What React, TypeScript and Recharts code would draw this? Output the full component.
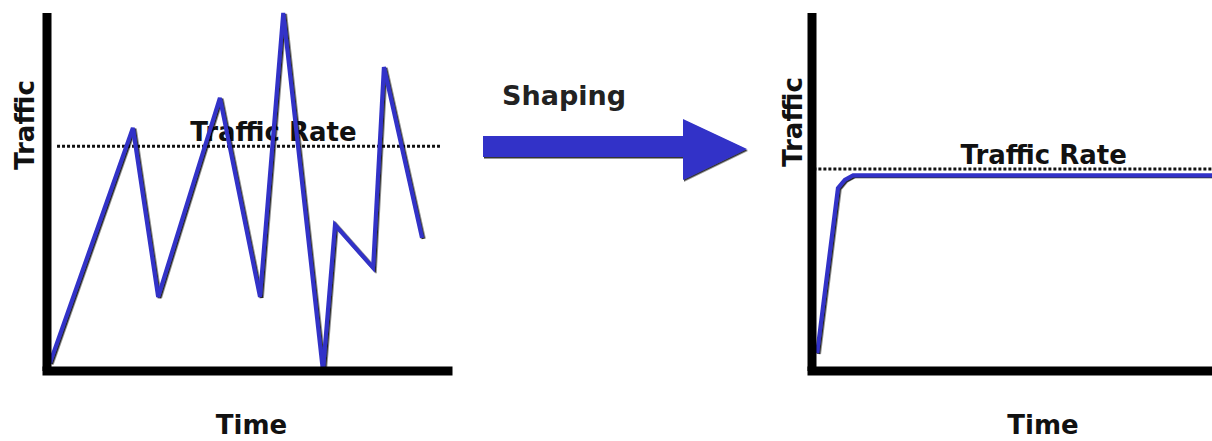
import React from "react";
import { LineChart, Line, XAxis, YAxis, ReferenceLine, Label } from "recharts";

// before shaping: bursty traffic
const RAW_TIME = [0.7, 21.4, 27.7, 43.1, 53.1, 58.9, 68.8, 71.8, 81.3, 84.0, 93.5];
const RAW_TRAFFIC = [2.2, 67.9, 20.7, 76.3, 20.7, 100, 0, 40.8, 28.8, 84.9, 37.2];
const RAW_RATE = 62.8;
const RAW_RATE_SPAN = [2.5, 98];

// after shaping: ramps up then holds just under the rate
const SHAPED_TIME = [1.1, 5.6, 7.1, 8.9, 100];
const SHAPED_TRAFFIC = [5.0, 51.1, 53.4, 54.7, 54.7];
const SHAPED_RATE = 56.4;
const SHAPED_RATE_SPAN = [0.3, 100];

const X_LABEL = "Time";
const Y_LABEL = "Traffic";
const RATE_LABEL = "Traffic Rate";
const ARROW_LABEL = "Shaping";

const rawData = RAW_TIME.map((t, i) => ({ t, v: RAW_TRAFFIC[i] }));
const shapedData = SHAPED_TIME.map((t, i) => ({ t, v: SHAPED_TRAFFIC[i] }));

const FONT = "'DejaVu Sans', Verdana, sans-serif";
const BLUE = "#3232c8";
const X_AXIS = { stroke: "#000", strokeWidth: 9, strokeLinecap: "square" as const };
const Y_AXIS = { stroke: "#000", strokeWidth: 9, strokeLinecap: "butt" as const };

const YTitle = ({ viewBox, value, dx = 0, dy = 0 }: any) => {
  const x = viewBox.x + dx;
  const y = viewBox.y + viewBox.height / 2 + dy;
  return (
    <text x={x} y={y} transform={`rotate(-90 ${x} ${y})`} textAnchor="middle" dominantBaseline="central"
      fontFamily={FONT} fontWeight="bold" fontSize={26} fill="#111">
      {value}
    </text>
  );
};

const RateTitle = ({ viewBox, value, dx = 0 }: any) => (
  <text x={viewBox.x + viewBox.width / 2 + dx} y={viewBox.y - 5} textAnchor="middle"
    fontFamily={FONT} fontWeight="bold" fontSize={26} fill="#111">
    {value}
  </text>
);

const Shadow = ({ id }: { id: string }) => (
  <defs>
    <filter id={id} x="-5%" y="-5%" width="110%" height="110%">
      <feDropShadow dx="1.5" dy="1" stdDeviation="0.3" floodColor="#000" floodOpacity="0.85" />
    </filter>
  </defs>
);

function Panel({ data, rate, span, width, margin, yWidth, labelDx, timeDx, yLabelDx, yLabelDy, id }: any) {
  return (
    <LineChart width={width} height={441} data={data} margin={margin}>
      <Shadow id={id} />
      <XAxis dataKey="t" type="number" domain={[0, 100]} tick={false} tickLine={false} axisLine={X_AXIS} height={70}>
        <Label value={X_LABEL} position="insideBottom" offset={7} dx={timeDx}
          style={{ fontFamily: FONT, fontWeight: "bold", fontSize: 26, fill: "#111" }} />
      </XAxis>
      <YAxis type="number" domain={[0, 100]} tick={false} tickLine={false} axisLine={Y_AXIS} width={yWidth}
        label={(p: any) => <YTitle {...p} value={Y_LABEL} dx={yLabelDx} dy={yLabelDy} />} />
      <ReferenceLine segment={[{ x: span[0], y: rate }, { x: span[1], y: rate }]} stroke="#111"
        strokeWidth={3} strokeDasharray="3 2" ifOverflow="visible"
        label={(p: any) => <RateTitle {...p} value={RATE_LABEL} dx={labelDx} />} />
      <Line dataKey="v" type="linear" stroke={BLUE} strokeWidth={4} dot={false} activeDot={false}
        strokeLinejoin="miter" filter={`url(#${id})`} isAnimationActive={false} />
    </LineChart>
  );
}

export default function App() {
  return (
    <div style={{ position: "fixed", left: 0, top: 0, width: 1212, height: 441, overflow: "hidden", background: "#fff" }}>
      <div style={{ position: "absolute", left: 0, top: 0 }}>
        <Panel id="shRaw" data={rawData} rate={RAW_RATE} span={RAW_RATE_SPAN} width={460}
          margin={{ top: 13, right: 12, bottom: 0, left: 0 }} yWidth={47}
          labelDx={25} timeDx={4} yLabelDx={25} yLabelDy={-67} />
      </div>
      <svg style={{ position: "absolute", left: 460, top: 60 }} width={300} height={140}>
        <defs>
          <filter id="shArrow" x="-5%" y="-5%" width="110%" height="110%">
            <feDropShadow dx="1" dy="1.5" stdDeviation="0.4" floodColor="#000" floodOpacity="0.8" />
          </filter>
        </defs>
        <text x={42} y={45} fontFamily={FONT} fontWeight="bold" fontSize={27} fill="#222">{ARROW_LABEL}</text>
        <polygon points="23,76 223,76 223,59 287,89 223,120 223,97 23,97" fill={BLUE} filter="url(#shArrow)" />
      </svg>
      <div style={{ position: "absolute", left: 760, top: 0 }}>
        <Panel id="shShaped" data={shapedData} rate={SHAPED_RATE} span={SHAPED_RATE_SPAN} width={530}
          margin={{ top: 13, right: 16, bottom: 0, left: 0 }} yWidth={52}
          labelDx={0} timeDx={0} yLabelDx={33} yLabelDy={-70} />
      </div>
    </div>
  );
}
